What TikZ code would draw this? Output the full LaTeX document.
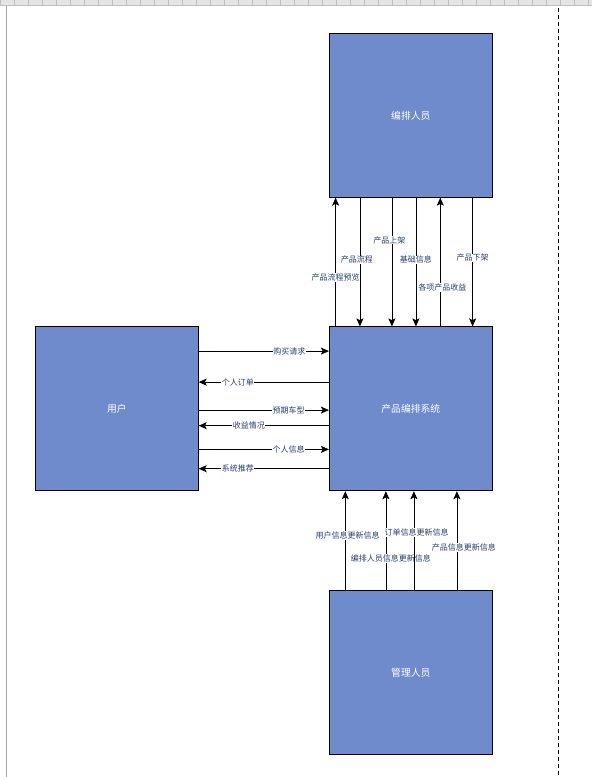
\documentclass[tikz,border=0pt]{standalone}
\usepackage{fontspec}
\setmainfont{Noto Sans CJK SC}
\usetikzlibrary{arrows.meta}
\definecolor{boxblue}{RGB}{111,139,204}
\definecolor{lblblue}{RGB}{40,62,112}
\definecolor{rulergrey}{RGB}{228,228,228}
\definecolor{tickgrey}{RGB}{190,190,190}
\tikzset{
  entity/.style={draw=black, line width=0.8pt, fill=boxblue, minimum width=163pt, minimum height=164pt, inner sep=0pt, text=white, font=\fontsize{9.8}{11}\selectfont},
  arr/.style={-{Stealth[length=8pt,width=7pt,inset=1.8pt]}, line width=0.75pt, black},
  lbl/.style={fill=white, inner sep=0.6pt, text=lblblue, font=\fontsize{8}{9}\selectfont}
}
\begin{document}
\begin{tikzpicture}[x=1pt,y=-1pt]
\useasboundingbox (0,0) rectangle (592,777);
\fill[white] (0,0) rectangle (592,777);
% ruler strip
\fill[rulergrey] (0,0) rectangle (592,5.5);
\foreach \i in {0,14,...,592} { \draw[tickgrey, line width=0.5pt] (\i,0) -- (\i,5.5); }
\draw[tickgrey, line width=0.6pt] (0,5.5) -- (592,5.5);
\draw[gray!70, line width=0.8pt] (6.8,5.5) -- (6.8,777);
\draw[black, line width=0.8pt, dash pattern=on 4pt off 3pt] (558.3,8) -- (558.3,777);
% entities
\node[entity] (edit) at (410.8,115.3) {编排人员};
\node[entity] (sys) at (410.8,408.8) {产品编排系统};
\node[entity] (user) at (116.8,408.8) {用户};
\node[entity] (mgr) at (410.8,672.7) {管理人员};
% sys <-> edit
\draw[arr] ([xshift=6.7pt]sys.north west) -- ([xshift=6.7pt]edit.south west) node[lbl,pos=0.378] {产品流程预览};
\draw[arr] ([xshift=31pt]edit.south west) -- ([xshift=31pt]sys.north west) node[lbl,pos=0.483,xshift=-3pt] {产品流程};
\draw[arr] ([xshift=63pt]edit.south west) -- ([xshift=63pt]sys.north west) node[lbl,pos=0.33,xshift=-2.5pt] {产品上架};
\draw[arr] ([xshift=87pt]edit.south west) -- ([xshift=87pt]sys.north west) node[lbl,pos=0.483] {基础信息};
\draw[arr] ([xshift=111.4pt]sys.north west) -- ([xshift=111.4pt]edit.south west) node[lbl,pos=0.303,xshift=2pt] {各项产品收益};
\draw[arr] ([xshift=143.7pt]edit.south west) -- ([xshift=143.7pt]sys.north west) node[lbl,pos=0.468] {产品下架};
% user <-> sys
\draw[arr] ([yshift=-24.7pt]user.north east) -- ([yshift=-24.7pt]sys.north west) node[lbl,pos=0.696] {购买请求};
\draw[arr] ([yshift=-55.7pt]sys.north west) -- ([yshift=-55.7pt]user.north east) node[lbl,pos=0.70] {个人订单};
\draw[arr] ([yshift=-83.7pt]user.north east) -- ([yshift=-83.7pt]sys.north west) node[lbl,pos=0.69] {预期车型};
\draw[arr] ([yshift=-99.3pt]sys.north west) -- ([yshift=-99.3pt]user.north east) node[lbl,pos=0.615] {收益情况};
\draw[arr] ([yshift=-123pt]user.north east) -- ([yshift=-123pt]sys.north west) node[lbl,pos=0.69] {个人信息};
\draw[arr] ([yshift=-142.3pt]sys.north west) -- ([yshift=-142.3pt]user.north east) node[lbl,pos=0.70] {系统推荐};
% mgr -> sys
\draw[arr] ([xshift=16.4pt]mgr.north west) -- ([xshift=16.4pt]sys.south west) node[lbl,pos=0.553,xshift=2.3pt] {用户信息更新信息};
\draw[arr] ([xshift=57pt]mgr.north west) -- ([xshift=57pt]sys.south west) node[lbl,pos=0.321,xshift=5pt] {编排人员信息更新信息};
\draw[arr] ([xshift=85pt]mgr.north west) -- ([xshift=85pt]sys.south west) node[lbl,pos=0.58,xshift=2.7pt] {订单信息更新信息};
\draw[arr] ([xshift=128pt]mgr.north west) -- ([xshift=128pt]sys.south west) node[lbl,pos=0.43,xshift=7pt] {产品信息更新信息};
\end{tikzpicture}
\end{document}
